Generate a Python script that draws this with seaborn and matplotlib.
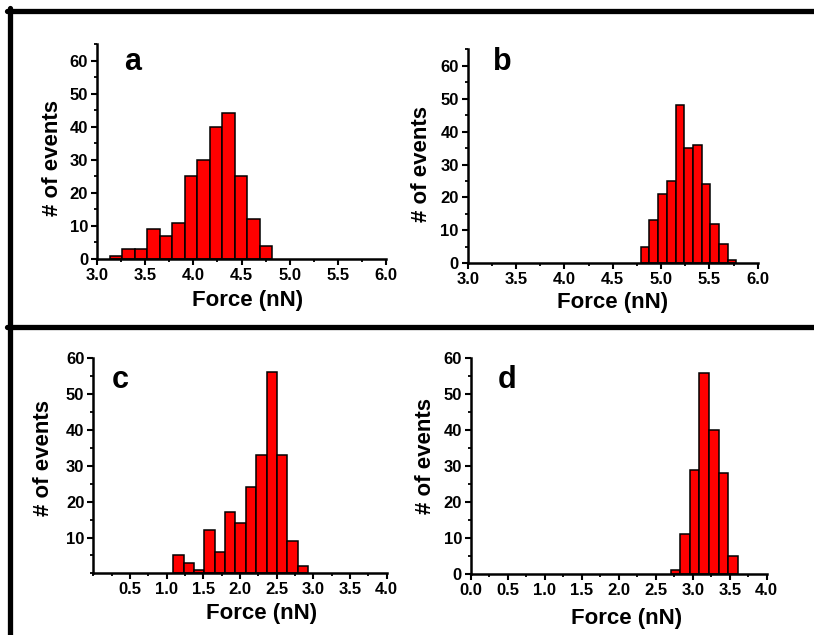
import matplotlib
matplotlib.use('Agg')
import matplotlib.pyplot as plt
from matplotlib.lines import Line2D
from matplotlib.ticker import MultipleLocator
import seaborn as sns
import pandas as pd
import numpy as np

# Datos de los histogramas: inicio de bin, ancho de bin y cuentas
start_a, width_a = 3.13, 0.13
counts_a = [1, 3, 3, 9, 7, 11, 25, 30, 40, 44, 25, 12, 4]

start_b, width_b = 4.79, 0.09
counts_b = [5, 13, 21, 25, 48, 35, 36, 24, 12, 6, 1]

start_c, width_c = 1.09, 0.1415
counts_c = [5, 3, 1, 12, 6, 17, 14, 24, 33, 56, 33, 9, 2]

start_d, width_d = 2.70, 0.13
counts_d = [1, 11, 29, 56, 40, 28, 5]

letras = ['a', 'b', 'c', 'd']
xlabel = 'Force (nN)'
ylabel = '# of events'

sns.set_style('ticks')
plt.rcParams['font.family'] = ['Liberation Sans', 'DejaVu Sans']
plt.rcParams['font.weight'] = 'bold'
plt.rcParams['axes.labelweight'] = 'bold'
plt.rcParams['text.color'] = 'black'
plt.rcParams['axes.labelcolor'] = 'black'
plt.rcParams['axes.edgecolor'] = 'black'
plt.rcParams['xtick.color'] = 'black'
plt.rcParams['ytick.color'] = 'black'


def histograma(ax, start, width, counts):
    n = len(counts)
    centros = start + width * (np.arange(n) + 0.5)
    df = pd.DataFrame({'fuerza': centros, 'cuenta': counts})
    sns.histplot(data=df, x='fuerza', weights='cuenta', binwidth=width,
                 binrange=(start, start + n * width), ax=ax,
                 color='#ff0000', edgecolor='black', linewidth=1.1, alpha=1)


def estilo(ax, xlim, ylim, xmajor, ymajor, letra, letra_pos, xl_pos, yl_pos):
    ax.set_xlim(*xlim)
    ax.set_ylim(*ylim)
    ax.set_xticks(xmajor)
    ax.set_yticks(ymajor)
    ax.xaxis.set_minor_locator(MultipleLocator(0.25))
    ax.yaxis.set_minor_locator(MultipleLocator(5))
    ax.set_xticklabels(['{:.1f}'.format(v) for v in xmajor],
                       fontweight='bold', fontsize=12)
    ax.set_yticklabels([str(v) for v in ymajor], fontweight='bold', fontsize=12)
    for s in ['top', 'right']:
        ax.spines[s].set_visible(False)
    for s in ['left', 'bottom']:
        ax.spines[s].set_linewidth(1.8)
        ax.spines[s].set_color('black')
    ax.tick_params(which='major', direction='out', length=4.5, width=1.5,
                   color='black', pad=2)
    ax.tick_params(which='minor', direction='out', length=2.5, width=1.3,
                   color='black')
    ax.set_xlabel(xlabel, fontsize=16, fontweight='bold')
    ax.set_ylabel(ylabel, fontsize=16, fontweight='bold')
    ax.xaxis.set_label_coords(*xl_pos)
    ax.yaxis.set_label_coords(*yl_pos)
    ax.text(letra_pos[0], letra_pos[1], letra, transform=ax.transAxes,
            fontsize=22, fontweight='bold', ha='left', va='baseline')


fig = plt.figure(figsize=(8.14, 6.35), dpi=100)
ax_a = fig.add_axes([0.1192, 0.5921, 0.3550, 0.3386])
ax_b = fig.add_axes([0.5746, 0.5854, 0.3563, 0.3370])
ax_c = fig.add_axes([0.1146, 0.0969, 0.3604, 0.3398])
ax_d = fig.add_axes([0.5786, 0.0961, 0.3633, 0.3397])

histograma(ax_a, start_a, width_a, counts_a)
histograma(ax_b, start_b, width_b, counts_b)
histograma(ax_c, start_c, width_c, counts_c)
histograma(ax_d, start_d, width_d, counts_d)

ticks_36 = [3.0, 3.5, 4.0, 4.5, 5.0, 5.5, 6.0]
estilo(ax_a, (3.0, 6.0), (0, 65), ticks_36, [0, 10, 20, 30, 40, 50, 60],
       letras[0], (0.093, 0.879), (0.52, -0.144), (-0.118, 0.47))
estilo(ax_b, (3.0, 6.0), (0, 65), ticks_36, [0, 10, 20, 30, 40, 50, 60],
       letras[1], (0.086, 0.903), (0.499, -0.133), (-0.123, 0.464))
estilo(ax_c, (0.0, 4.0), (0, 60), [0.5, 1.0, 1.5, 2.0, 2.5, 3.0, 3.5, 4.0],
       [10, 20, 30, 40, 50, 60],
       letras[2], (0.063, 0.858), (0.574, -0.138), (-0.135, 0.537))
estilo(ax_d, (0.0, 4.0), (0, 60), [0.0, 0.5, 1.0, 1.5, 2.0, 2.5, 3.0, 3.5, 4.0],
       [0, 10, 20, 30, 40, 50, 60],
       letras[3], (0.090, 0.861), (0.525, -0.159), (-0.117, 0.547))

# Marcos negros de la figura
W, H = 814.0, 635.0
lw = 3.8
fig.add_artist(Line2D([7 / W, 1.0], [1 - 10.5 / H, 1 - 10.5 / H],
                      transform=fig.transFigure, color='black', lw=lw))
fig.add_artist(Line2D([9.5 / W, 9.5 / W], [0.0, 1 - 8 / H],
                      transform=fig.transFigure, color='black', lw=lw))
fig.add_artist(Line2D([7 / W, 1.0], [1 - 327 / H, 1 - 327 / H],
                      transform=fig.transFigure, color='black', lw=lw))

plt.savefig('out.png', dpi=100)
